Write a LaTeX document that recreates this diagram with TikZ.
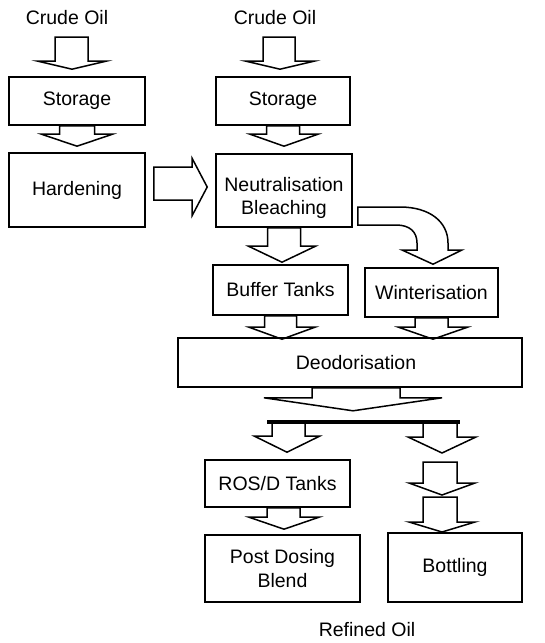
\documentclass[tikz,border=0pt]{standalone}
\usepackage{fontspec}
\setmainfont{Liberation Sans}
\usetikzlibrary{calc}
\tikzset{
  box/.style={draw, line width=1.6pt, inner sep=0pt, align=center,
    font=\fontsize{19.5}{23}\selectfont},
  lbl/.style={inner sep=0pt, font=\fontsize{19.5}{23}\selectfont},
  blk/.style={draw, line width=1.5pt, line join=miter},
  barline/.style={line width=4pt}
}
% vertical block arrow: start (shaft centre), tip, shaft half width, head half width, head length
\newcommand\blkdown[5]{%
  \draw[blk] let \p1=(#1), \p2=(#2) in
    ({\x1-#3},\y1) -- ({\x1-#3},{\y2+#5}) -- ({\x2-#4},{\y2+#5}) -- (\x2,\y2)
    -- ({\x2+#4},{\y2+#5}) -- ({\x1+#3},{\y2+#5}) -- ({\x1+#3},\y1) -- cycle;}
% horizontal block arrow (pointing right)
\newcommand\blkright[5]{%
  \draw[blk] let \p1=(#1), \p2=(#2) in
    (\x1,{\y1+#3}) -- ({\x2-#5},{\y1+#3}) -- ({\x2-#5},{\y2+#4}) -- (\x2,\y2)
    -- ({\x2-#5},{\y2-#4}) -- ({\x2-#5},{\y1-#3}) -- (\x1,{\y1-#3}) -- cycle;}
\begin{document}
\begin{tikzpicture}[x=1pt,y=-1pt]
\useasboundingbox (0,0) rectangle (545,643);
% texts
\node[lbl] (crude1) at (67,18) {Crude Oil};
\node[lbl] (crude2) at (275,18) {Crude Oil};
\node[lbl] (refined) at (367,630) {Refined Oil};
% boxes
\node[box, minimum width=136pt, minimum height=48pt] (st1) at (77,101) {Storage};
\node[box, minimum width=136pt, minimum height=74pt] (hard) at (77,190) {Hardening};
\node[box, minimum width=134pt, minimum height=48pt] (st2) at (283,101) {Storage};
\node[box, minimum width=136pt, minimum height=73pt] (neut) at (284,190.5) {\rule{0pt}{30pt}Neutralisation\\Bleaching};
\node[box, minimum width=135pt, minimum height=50pt] (buf) at (280.5,290) {Buffer Tanks};
\node[box, minimum width=133pt, minimum height=49pt] (wint) at (431.5,292.5) {Winterisation};
\node[box, minimum width=344pt, minimum height=49pt] (deo) at (350,362.5) {\hspace*{12pt}Deodorisation};
\node[box, minimum width=145pt, minimum height=47pt] (ros) at (277.5,483.5) {ROS/D Tanks};
\node[box, minimum width=155pt, minimum height=67pt, font=\fontsize{19.5}{24}\selectfont] (post) at (282.5,568.5) {Post Dosing\\Blend};
\node[box, minimum width=134pt, minimum height=69pt] (bott) at (455,567.5) {Bottling};
% distribution bar
\coordinate (barL) at (267,422);
\coordinate (barR) at (460,422);
\draw[barline] (barL) -- (barR);
% free-standing arrows in the bottling line
\coordinate (r1s) at (440,462);
\coordinate (r1t) at (442,495);
\coordinate (r2s) at (440,497);
\coordinate (r2t) at (442,532);
% block arrows
\blkdown{$(crude1)+(4.5,19)$}{$(st1.north)+(-5,-7)$}{16.5pt}{34pt}{8pt}
\blkdown{$(crude2)+(4,19)$}{$(st2.north)+(-3,-7)$}{16pt}{34pt}{8pt}
\blkdown{st1.south}{$(hard.north)+(0,-6)$}{17.5pt}{35.5pt}{12pt}
\blkdown{st2.south}{$(neut.north)+(0,-7)$}{16.5pt}{34pt}{12pt}
\blkright{$(hard.east)+(8,-6.5)$}{$(neut.west)+(-8,-3.5)$}{16.5pt}{28.5pt}{15pt}
\blkdown{neut.south}{$(buf.north)+(1.5,-2)$}{16.5pt}{33.5pt}{16pt}
\blkdown{buf.south}{$(buf.south |- deo.north)+(1.5,2)$}{16pt}{33pt}{12pt}
\blkdown{wint.south}{$(wint.south |- deo.north)+(1.5,2)$}{16.5pt}{34.5pt}{12pt}
\blkdown{$(deo.south)+(6,0)$}{$(deo.south)+(3,23)$}{44pt}{89pt}{13pt}
\blkdown{$(barL)+(21.5,0)$}{$(ros.north)+(9.5,-7)$}{16.5pt}{32.5pt}{16pt}
\blkdown{$(barR)+(-20,0)$}{$(r1s)+(2,-9)$}{17pt}{34pt}{16pt}
\blkdown{r1s}{r1t}{17pt}{33pt}{12pt}
\blkdown{r2s}{r2t}{17pt}{33pt}{10pt}
\blkdown{$(ros.south)+(6,0)$}{$(post.north)+(1.5,-5)$}{16.5pt}{35pt}{12pt}
% curved arrow to winterisation
\draw[blk] ($(neut.east)+(5,16.5)$) -- (400,207) .. controls (430,207) and (448,222) .. (448,243)
  -- (448,250) -- (462,250) -- ($(wint.north)+(1.5,-3)$) -- (402,250) -- (417,250) -- (417,243)
  .. controls (417,232) and (410,225) .. (396,225) -- ($(neut.east)+(5,34.5)$) -- cycle;
\end{tikzpicture}
\end{document}
